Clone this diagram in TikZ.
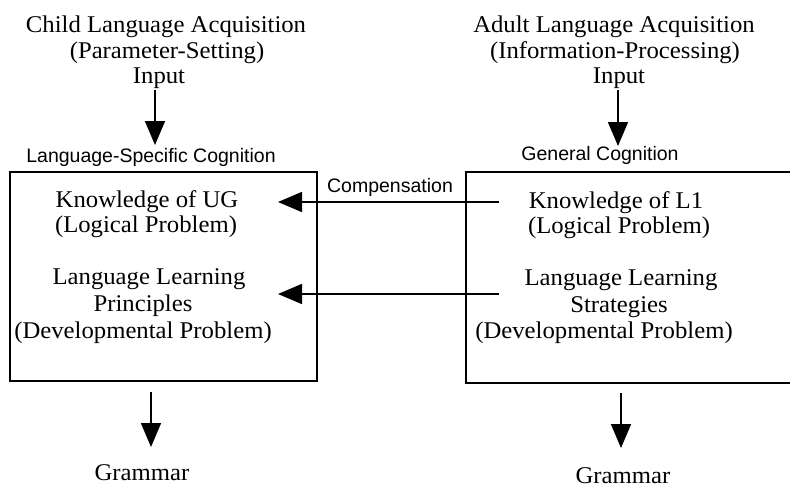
\documentclass[tikz,border=0pt]{standalone}
\usepackage{fontspec}
\setmainfont[FakeStretch=1.03]{Liberation Serif}
\setsansfont{Liberation Sans}
\usetikzlibrary{arrows.meta}
\begin{document}
\begin{tikzpicture}[x=1pt,y=-1pt,
  serif/.style={inner sep=0pt, anchor=base, font=\fontsize{24}{26}\selectfont},
  sans/.style={inner sep=0pt, anchor=base, font=\sffamily\fontsize{19.5}{22}\selectfont},
  box/.style={draw, line width=1.7pt, inner sep=0pt, outer sep=0pt, rectangle},
  arr/.style={line width=1.7pt, -{Triangle[length=24pt,width=20pt]}}]
\clip (0,0) rectangle (790,490);
% titles
\node[serif] (cla) at (166,32) {Child Language Acquisition};
\node[serif] (cps) at (167,58) {(Parameter-Setting)};
\node[serif] (cin) at (159,83) {Input};
\node[serif] (ala) at (614,32) {Adult Language Acquisition};
\node[serif] (aip) at (615,58) {(Information-Processing)};
\node[serif] (ain) at (619,83) {Input};
% cognition labels
\node[sans] (lsc) at (151,162) {Language-Specific Cognition};
\node[sans] (gc) at (600,160) {General Cognition};
\node[sans] (comp) at (390,192) {Compensation};
% boxes
\node[box, minimum width=307pt, minimum height=209pt] (lbox) at (163.5,276.5) {};
\node[box, minimum width=334pt, minimum height=211pt] (rbox) at (633,277.5) {};
% left box text
\node[serif] (kug) at (147,207) {Knowledge of UG};
\node[serif] (llp1) at (146,232) {(Logical Problem)};
\node[serif] (lll) at (149,284) {Language Learning};
\node[serif] (lpr) at (143,311) {Principles};
\node[serif] (ldp) at (143,338) {(Developmental Problem)};
% right box text
\node[serif] (kl1) at (616,208) {Knowledge of L1};
\node[serif] (rlp) at (619,233) {(Logical Problem)};
\node[serif] (rll) at (621,285) {Language Learning};
\node[serif] (rst) at (619,312) {Strategies};
\node[serif] (rdp) at (604,338) {(Developmental Problem)};
% grammar
\node[serif] (lgr) at (142,480) {Grammar};
\node[serif] (rgr) at (623,483) {Grammar};
% arrow endpoints
\coordinate (ci1) at (155,90);
\coordinate (ci2) at (155,145);
\coordinate (ai1) at (618,90);
\coordinate (ai2) at (618,146);
\coordinate (h1s) at (499,202);
\coordinate (h1e) at (278,202);
\coordinate (h2s) at (499,294);
\coordinate (h2e) at (278,294);
\coordinate (lg1) at (151,392);
\coordinate (lg2) at (151,447);
\coordinate (rg1) at (621,393);
\coordinate (rg2) at (621,448);
% arrows
\draw[arr] (ci1) -- (ci2);
\draw[arr] (ai1) -- (ai2);
\draw[arr] (h1s) -- (h1e);
\draw[arr] (h2s) -- (h2e);
\draw[arr] (lg1) -- (lg2);
\draw[arr] (rg1) -- (rg2);
\end{tikzpicture}
\end{document}
